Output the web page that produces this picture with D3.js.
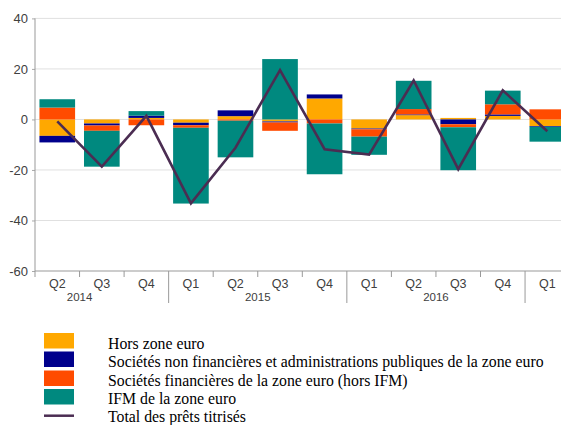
<!DOCTYPE html>
<html>
<head>
<meta charset="utf-8">
<script src="https://cdn.jsdelivr.net/npm/d3@7"></script>
<style>
html,body{margin:0;padding:0;background:#fff;overflow:hidden;}
svg{display:block;}
</style>
</head>
<body>
<svg id="chart" width="561" height="425"></svg>
<script>
const quarters = ["Q2","Q3","Q4","Q1","Q2","Q3","Q4","Q1","Q2","Q3","Q4","Q1"];
const years    = ["2014","2014","2014","2015","2015","2015","2015","2016","2016","2016","2016","2017"];
const horsZoneEuro  = [-6.5, -1.6, 0.6, -1.3, 1.3, -0.8, 8.3, -3.6, 1.7, 0.6, 1.4, -2.6];
const societesNonFin = [-2.6, -0.8, 0.9, -1.0, 2.3, -0.4, 1.6, -0.3, 0.3, -1.9, 0.6, -0.3];
const societesFin   = [4.7, -2.1, -2.3, -1.0, -0.5, -3.3, -1.6, -2.9, 2.1, -1.2, 4.0, 4.0];
const ifm           = [3.3, -14.2, 1.8, -30.0, -14.5, 23.9, -20.1, -7.2, 11.2, -17.0, 5.4, -5.9];
const totalTitrises = [-0.8, -18.7, 1.4, -33.2, -11.2, 19.5, -11.8, -13.9, 15.4, -19.7, 11.5, -4.7];
const yTicks = [40, 20, 0, -20, -40, -60];
const seriesNames = ["Hors zone euro",
  "Sociétés non financières et administrations publiques de la zone euro",
  "Sociétés financières de la zone euro (hors IFM)",
  "IFM de la zone euro"];
const lineName = "Total des prêts titrisés";
const colors = ["#FFA800", "#00008C", "#FF4B00", "#00897F"];
const lineColor = "#4B2D52";

(function () {
const keys = ["h","s","f","i"];
const rows = quarters.map((q, i) => ({
  idx: i, h: horsZoneEuro[i], s: societesNonFin[i], f: societesFin[i], i: ifm[i]
}));

const svg = d3.select("#chart");
const W = 561;
const pLeft = 35, pRight = 569.6, pTop = 18.4, pBottom = 271;
const sans = "'Liberation Sans', Arial, sans-serif";
const serif = "'Liberation Serif', 'Times New Roman', serif";

const x = d3.scaleBand().domain(d3.range(quarters.length))
  .range([pLeft, pRight]).paddingInner(0.2).paddingOuter(0.1);
const step = x.step();
const y = d3.scaleLinear().domain([-60, 40]).range([pBottom, pTop]);

// gridlines
svg.append("g").selectAll("line").data(yTicks.filter(t => t !== -60)).join("line")
  .attr("x1", pLeft).attr("x2", W)
  .attr("y1", d => y(d)).attr("y2", d => y(d))
  .attr("stroke", "#e0e0e0").attr("stroke-width", 1);

// y axis
const yAxis = d3.axisLeft(y).tickValues(yTicks).tickSize(3).tickPadding(5).tickFormat(d => String(d));
const gy = svg.append("g").attr("transform", `translate(${pLeft},0)`).call(yAxis);
gy.select(".domain").remove();
gy.selectAll(".tick line").attr("stroke", "#aaa");
gy.selectAll(".tick text").attr("font-family", sans)
  .attr("font-size", 13).attr("fill", "#404040").attr("x", -7);
svg.append("line").attr("x1", pLeft).attr("x2", pLeft).attr("y1", pTop).attr("y2", pBottom + 6)
  .attr("stroke", "#999").attr("stroke-width", 1);

// stacked bars
const stack = d3.stack().keys(keys).offset(d3.stackOffsetDiverging);
const stacked = stack(rows);
svg.append("g").selectAll("g").data(stacked).join("g")
  .attr("fill", (d, k) => colors[k])
  .selectAll("rect").data(d => d).join("rect")
  .attr("x", d => x(d.data.idx))
  .attr("width", x.bandwidth())
  .attr("y", d => y(Math.max(d[0], d[1])))
  .attr("height", d => Math.abs(y(d[0]) - y(d[1])));

// line
const line = d3.line().x((d, i) => x(i) + x.bandwidth() / 2).y(d => y(d));
svg.append("path").datum(totalTitrises).attr("d", line)
  .attr("fill", "none").attr("stroke", lineColor).attr("stroke-width", 2.6)
  .attr("stroke-linejoin", "miter");

// x axis
svg.append("line").attr("x1", pLeft).attr("x2", W).attr("y1", pBottom).attr("y2", pBottom)
  .attr("stroke", "#999").attr("stroke-width", 1);
svg.append("g").selectAll("line").data(d3.range(1, quarters.length)).join("line")
  .attr("x1", i => pLeft + i * step).attr("x2", i => pLeft + i * step)
  .attr("y1", pBottom)
  .attr("y2", i => (years[i] !== years[i - 1]) ? 303 : 277)
  .attr("stroke", "#999").attr("stroke-width", 1);
svg.append("g").selectAll("text").data(quarters).join("text")
  .attr("x", (d, i) => x(i) + x.bandwidth() / 2)
  .attr("y", 288)
  .attr("text-anchor", "middle")
  .attr("font-family", sans)
  .attr("font-size", 12.5).attr("fill", "#404040")
  .text(d => d);
// year labels centred on the full year (only those whose centre is visible)
const yearCentre = yr => {
  const first = years.indexOf(yr);
  const qNum = +quarters[first].slice(1);
  return pLeft + (first - (qNum - 1) + 2) * step;
};
const yearNames = Array.from(new Set(years)).filter(yr => yearCentre(yr) < W - 20);
svg.append("g").selectAll("text").data(yearNames).join("text")
  .attr("x", yearCentre)
  .attr("y", 301)
  .attr("text-anchor", "middle")
  .attr("font-family", sans)
  .attr("font-size", 11.5).attr("fill", "#404040")
  .text(d => d);

// legend
const lg = svg.append("g");
const swTop = [333, 351.5, 370.5, 389];
const baseY = [349, 367.3, 385.6, 403.9, 421.6];
seriesNames.forEach((name, k) => {
  lg.append("rect").attr("x", 44).attr("y", swTop[k]).attr("width", 30).attr("height", 15.5)
    .attr("fill", colors[k]);
  lg.append("text").attr("x", 108).attr("y", baseY[k])
    .attr("font-family", serif)
    .attr("font-size", 15.8).attr("fill", "#000").text(name);
});
lg.append("line").attr("x1", 44).attr("x2", 74).attr("y1", 415.7).attr("y2", 415.7)
  .attr("stroke", lineColor).attr("stroke-width", 2.5);
lg.append("text").attr("x", 108).attr("y", baseY[4])
  .attr("font-family", serif)
  .attr("font-size", 15.8).attr("fill", "#000").text(lineName);
})();
</script>
</body>
</html>
